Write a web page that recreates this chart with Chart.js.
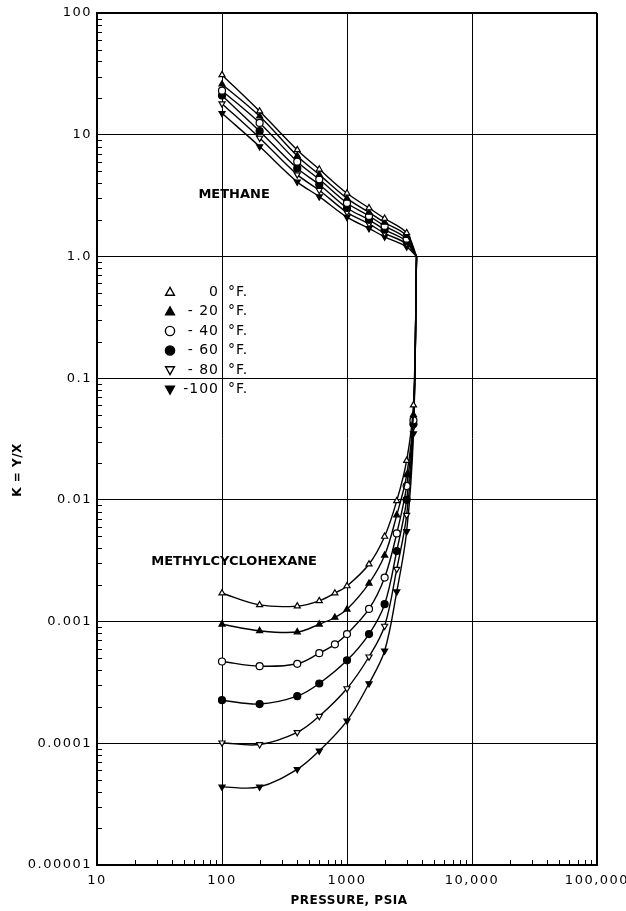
<!DOCTYPE html>
<html>
<head>
<meta charset="utf-8">
<title>K = Y/X, methane - methylcyclohexane</title>
<script src="https://cdn.jsdelivr.net/npm/chart.js@4.4.1/dist/chart.umd.min.js"></script>
<style>
  html, body { margin: 0; padding: 0; background: #fff; }
  #wrap { width: 626px; height: 911px; }
</style>
</head>
<body>
<div id="wrap"><canvas id="kChart" width="626" height="911"></canvas></div>
<script>
// temperatures (deg F) and how they are written in the key
const temps = [0, -20, -40, -60, -80, -100];
const tempLabels = ['0', '- 20', '- 40', '- 60', '- 80', '-100'];

// axis ticks
const xTickValues = [10, 100, 1000, 10000, 100000];
const xTickLabels = ['10', '100', '1000', '10,000', '100,000'];
const yTickValues = [0.00001, 0.0001, 0.001, 0.01, 0.1, 1, 10, 100];
const yTickLabels = ['0.00001', '0.0001', '0.001', '0.01', '0.1', '1.0', '10', '100'];

// methane branch, psia -> K (last point = convergence)
const methanePressure = [100, 200, 400, 600, 1000, 1500, 2000, 3000, 3600];
const methaneK_0   = [31, 15.6, 7.5, 5.2, 3.3, 2.5, 2.05, 1.56, 1.0];
const methaneK_20  = [26, 14.2, 6.7, 4.7, 3.0, 2.3, 1.9, 1.48, 1.0];
const methaneK_40  = [23, 12.5, 6.0, 4.3, 2.75, 2.15, 1.78, 1.40, 1.0];
const methaneK_60  = [21, 10.7, 5.3, 3.9, 2.5, 2.0, 1.66, 1.33, 1.0];
const methaneK_80  = [18, 9.4, 4.7, 3.5, 2.3, 1.85, 1.55, 1.27, 1.0];
const methaneK_100 = [15, 8.0, 4.1, 3.1, 2.1, 1.7, 1.45, 1.2, 1.0];

// methylcyclohexane branch (null = no point read at that pressure)
const mchPressure = [100, 200, 400, 600, 800, 1000, 1500, 2000, 2500, 3000, 3400, 3600];
const mchK_0   = [0.00171, 0.00137, 0.00134, 0.00148, 0.00171, 0.00196, 0.00296, 0.0050, 0.0098, 0.021, 0.06, 1.0];
const mchK_20  = [0.00095, 0.00084, 0.00082, 0.00095, 0.00108, 0.00126, 0.00206, 0.0035, 0.0075, 0.016, 0.05, 1.0];
const mchK_40  = [0.00047, 0.00043, 0.00045, 0.00055, 0.00065, 0.00079, 0.00127, 0.0023, 0.0053, 0.013, 0.045, 1.0];
const mchK_60  = [0.000226, 0.00021, 0.000244, 0.00031, null, 0.00048, 0.00079, 0.00139, 0.0038, 0.010, 0.042, 1.0];
const mchK_80  = [0.000101, 0.0000978, 0.000123, 0.000167, null, 0.000282, 0.000514, 0.00092, 0.0027, 0.0075, 0.04, 1.0];
const mchK_100 = [0.0000438, 0.0000438, 0.0000612, 0.0000867, null, 0.000153, 0.00031, 0.000575, 0.00176, 0.0055, 0.035, 1.0];

const methaneSeries = [methaneK_0, methaneK_20, methaneK_40, methaneK_60, methaneK_80, methaneK_100];
const mchSeries = [mchK_0, mchK_20, mchK_40, mchK_60, mchK_80, mchK_100];

// marker look per temperature
const markerShape = ['triangle', 'triangle', 'circle', 'circle', 'triangle', 'triangle'];
const markerFilled = [false, true, false, true, false, true];
const markerRotation = [0, 0, 0, 0, 180, 180];

const FONT = 'DejaVu Sans';

function toPoints(pressures, ks) {
  return pressures.map((p, i) => ({ x: p, y: ks[i] })).filter(d => d.y !== null);
}

function sameValue(a, b) {
  return Math.abs(a - b) / b < 1e-6;
}

function labelFor(v, values, labels) {
  const i = values.findIndex(t => sameValue(v, t));
  return i >= 0 ? labels[i] : '';
}

function isMajor(v, values) {
  return values.some(t => sameValue(v, t));
}

function makeDataset(points, i) {
  return {
    data: points,
    borderColor: '#000',
    borderWidth: 1.4,
    tension: 0.35,
    pointStyle: markerShape[i],
    pointRotation: markerRotation[i],
    pointRadius: ctx => (ctx.raw && ctx.raw.y === 1 ? 0 : 3.5),
    pointBorderWidth: 1.2,
    pointBorderColor: '#000',
    pointBackgroundColor: markerFilled[i] ? '#000' : '#fff',
    fill: false
  };
}

const datasets = [];
temps.forEach((t, i) => {
  datasets.push(makeDataset(toPoints(methanePressure, methaneSeries[i]), i));
  datasets.push(makeDataset(toPoints(mchPressure, mchSeries[i]), i));
});

function drawMarker(ctx, i, x, y, r) {
  ctx.save();
  ctx.translate(x, y);
  ctx.beginPath();
  if (markerShape[i] === 'circle') {
    ctx.arc(0, 0, r, 0, Math.PI * 2);
  } else {
    const dir = markerRotation[i] === 180 ? -1 : 1;
    ctx.moveTo(0, -dir * r);
    ctx.lineTo(r * 0.95, dir * r * 0.7);
    ctx.lineTo(-r * 0.95, dir * r * 0.7);
    ctx.closePath();
  }
  ctx.fillStyle = markerFilled[i] ? '#000' : '#fff';
  ctx.fill();
  ctx.lineWidth = 1.4;
  ctx.strokeStyle = '#000';
  ctx.stroke();
  ctx.restore();
}

// text spacing for the tick labels
const spacingPlugin = {
  id: 'spacing',
  beforeDraw(chart) {
    chart.ctx.letterSpacing = '1.5px';
  }
};

// inward minor ticks on left and bottom axes
const minorTicks = {
  id: 'minorTicks',
  afterDraw(chart) {
    const { ctx, chartArea: a } = chart;
    const xs = chart.scales.x, ys = chart.scales.y;
    ctx.save();
    ctx.strokeStyle = '#000';
    ctx.lineWidth = 1;
    ctx.beginPath();
    for (let e = -5; e < 2; e++) {
      for (let m = 2; m <= 9; m++) {
        const py = Math.round(ys.getPixelForValue(m * Math.pow(10, e))) + 0.5;
        ctx.moveTo(a.left, py);
        ctx.lineTo(a.left + 5, py);
      }
    }
    for (let e = 1; e < 5; e++) {
      for (let m = 2; m <= 9; m++) {
        const px = Math.round(xs.getPixelForValue(m * Math.pow(10, e))) + 0.5;
        ctx.moveTo(px, a.bottom);
        ctx.lineTo(px, a.bottom - 5);
      }
    }
    ctx.stroke();
    ctx.restore();
  }
};

// labels, key and axis titles
const labelsPlugin = {
  id: 'labels',
  afterDraw(chart) {
    const { ctx, chartArea: a } = chart;
    const xs = chart.scales.x, ys = chart.scales.y;
    ctx.save();
    ctx.fillStyle = '#000';
    ctx.letterSpacing = '0px';
    ctx.textBaseline = 'middle';
    ctx.textAlign = 'center';
    ctx.font = 'bold 13px "' + FONT + '"';
    ctx.fillText('METHANE', xs.getPixelForValue(125), ys.getPixelForValue(3.2));
    ctx.fillText('METHYLCYCLOHEXANE', xs.getPixelForValue(125), ys.getPixelForValue(0.0031));

    // key
    ctx.font = '14px "' + FONT + '"';
    ctx.letterSpacing = '1px';
    temps.forEach((t, i) => {
      const y = 292 + i * 19.5;
      drawMarker(ctx, i, a.left + 73, y, 4.6);
      ctx.fillStyle = '#000';
      ctx.textAlign = 'right';
      ctx.fillText(tempLabels[i], a.left + 122, y);
      ctx.textAlign = 'left';
      ctx.fillText('\u00b0F.', a.left + 131, y);
    });

    // axis titles
    ctx.font = 'bold 12px "' + FONT + '"';
    ctx.letterSpacing = '0.5px';
    ctx.textAlign = 'center';
    ctx.fillText('PRESSURE, PSIA', (a.left + a.right) / 2 + 2, 901);
    ctx.translate(18, 470);
    ctx.rotate(-Math.PI / 2);
    ctx.fillText('K = Y/X', 0, 0);
    ctx.restore();
  }
};

new Chart(document.getElementById('kChart'), {
  type: 'line',
  data: { datasets: datasets },
  options: {
    responsive: false,
    animation: false,
    layout: { padding: { top: 13, right: 29, left: 0, bottom: 0 } },
    plugins: { legend: { display: false }, tooltip: { enabled: false } },
    scales: {
      x: {
        type: 'logarithmic',
        min: 10,
        max: 100000,
        afterFit: s => { s.height = 46; s.paddingLeft = 0; s.paddingRight = 0; },
        border: { display: true, color: '#000', width: 2 },
        grid: {
          drawTicks: false,
          color: c => (isMajor(c.tick.value, xTickValues) ? '#000' : 'rgba(0,0,0,0)'),
          lineWidth: c => (sameValue(c.tick.value, 100000) ? 2 : 1)
        },
        ticks: {
          autoSkip: false,
          maxRotation: 0,
          minRotation: 0,
          padding: 8,
          color: '#000',
          font: { family: FONT, size: 13 },
          callback: v => labelFor(v, xTickValues, xTickLabels)
        }
      },
      y: {
        type: 'logarithmic',
        min: 0.00001,
        max: 100,
        afterFit: s => { s.width = 97; s.paddingTop = 0; s.paddingBottom = 0; },
        border: { display: true, color: '#000', width: 2 },
        grid: {
          drawTicks: false,
          color: c => (isMajor(c.tick.value, yTickValues) ? '#000' : 'rgba(0,0,0,0)'),
          lineWidth: c => (sameValue(c.tick.value, 100) ? 2 : 1)
        },
        ticks: {
          autoSkip: false,
          padding: 5,
          color: '#000',
          font: { family: FONT, size: 13 },
          callback: v => labelFor(v, yTickValues, yTickLabels)
        }
      }
    }
  },
  plugins: [spacingPlugin, minorTicks, labelsPlugin]
});
</script>
</body>
</html>
